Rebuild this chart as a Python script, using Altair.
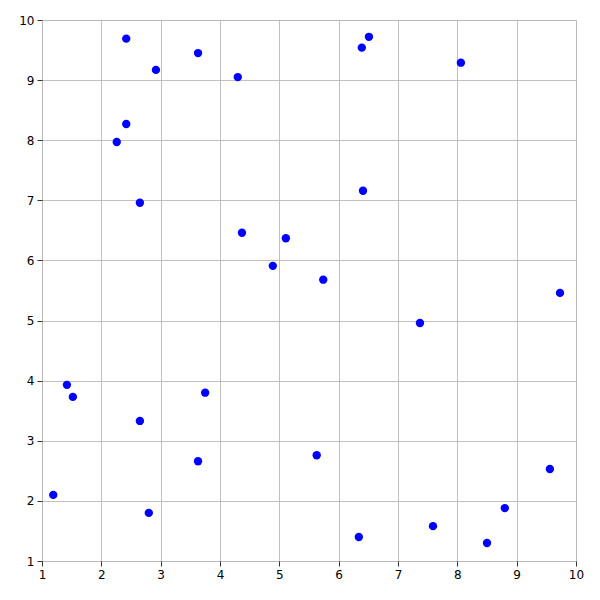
import altair as alt
import pandas as pd

xs = [2.42, 3.63, 2.92, 4.30, 6.39, 6.51, 8.06, 2.42, 2.26, 2.65, 6.41, 4.37, 5.11, 4.89, 5.74,
      9.73, 7.37, 1.42, 1.52, 3.75, 2.65, 3.63, 5.63, 9.56, 1.19, 2.80, 8.80, 7.59, 6.34, 8.50]
ys = [9.69, 9.45, 9.17, 9.05, 9.54, 9.72, 9.29, 8.27, 7.97, 6.96, 7.16, 6.46, 6.37, 5.91, 5.68,
      5.46, 4.96, 3.93, 3.73, 3.80, 3.33, 2.66, 2.76, 2.53, 2.10, 1.80, 1.88, 1.58, 1.40, 1.30]
ticks = [1, 2, 3, 4, 5, 6, 7, 8, 9, 10]

df = pd.DataFrame({"x": xs, "y": ys})

axis_common = dict(
    values=ticks, grid=True, gridColor="#b0b0b0", gridWidth=0.8,
    domain=False, ticks=True, tickSize=5, tickColor="black", tickWidth=0.8,
    labelFont="DejaVu Sans", labelFontSize=12, labelColor="black", title=None,
    labelPadding=3, labelFlush=False,
)

chart = alt.Chart(df).mark_circle(color="blue", opacity=1, size=70).encode(
    x=alt.X("x:Q", scale=alt.Scale(domain=[1, 10], nice=False, zero=False),
            axis=alt.Axis(**axis_common)),
    y=alt.Y("y:Q", scale=alt.Scale(domain=[1, 10], nice=False, zero=False),
            axis=alt.Axis(**axis_common)),
).properties(
    width=534, height=541,
    padding={"left": 34, "top": 12, "right": 10, "bottom": 30},
    autosize=alt.AutoSizeParams(type="none"),
).configure_view(stroke="black", strokeWidth=1).configure(background="white")

chart.save("out.html", embed_options={"renderer": "svg", "actions": False})
